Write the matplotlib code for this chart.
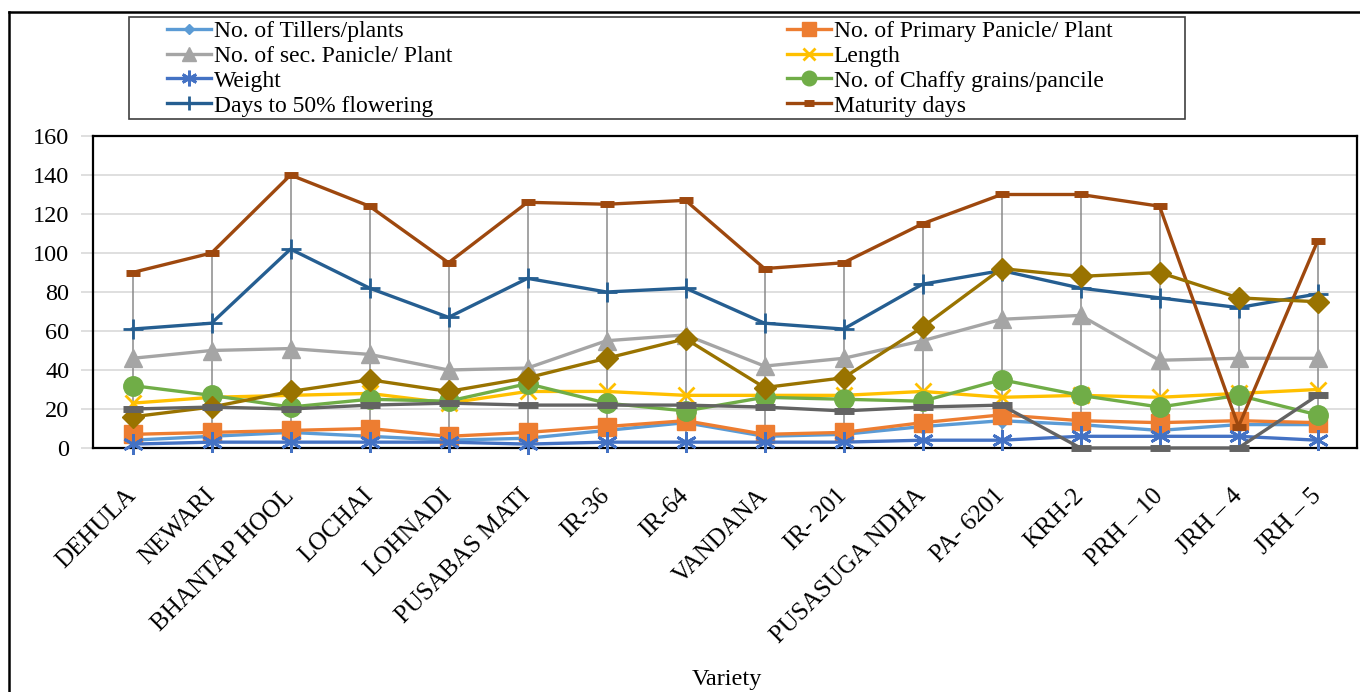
import matplotlib
matplotlib.use('Agg')
import matplotlib.pyplot as plt
from matplotlib.lines import Line2D
from matplotlib.patches import Rectangle
import numpy as np

plt.rcParams['font.family'] = ['Liberation Serif', 'DejaVu Serif']

varieties = ['DEHULA', 'NEWARI', 'BHANTAP HOOL', 'LOCHAI', 'LOHNADI', 'PUSABAS MATI',
             'IR-36', 'IR-64', 'VANDANA', 'IR- 201', 'PUSASUGA NDHA', 'PA- 6201',
             'KRH-2', 'PRH – 10', 'JRH – 4', 'JRH – 5']

tillers   = [4, 6, 8, 6, 4, 5, 9, 13, 6, 7, 11, 14, 12, 9, 12, 12]
primary   = [7, 8, 9, 10, 6, 8, 11, 14, 7, 8, 13, 17, 14, 13, 14, 13]
secondary = [46, 50, 51, 48, 40, 41, 55, 58, 42, 46, 55, 66, 68, 45, 46, 46]
length    = [23, 26, 27, 28, 23, 29, 29, 27, 27, 27, 29, 26, 27, 26, 28, 30]
weight    = [2, 3, 3, 3, 3, 2, 3, 3, 3, 3, 4, 4, 6, 6, 6, 4]
chaffy    = [32, 27, 21, 25, 24, 33, 23, 19, 26, 25, 24, 35, 27, 21, 27, 17]
flowering = [61, 64, 102, 82, 67, 87, 80, 82, 64, 61, 84, 91, 82, 77, 72, 79]
maturity  = [90, 100, 140, 124, 95, 126, 125, 127, 92, 95, 115, 130, 130, 124, 11, 106]
extra_gold = [16, 21, 29, 35, 29, 36, 46, 56, 31, 36, 62, 92, 88, 90, 77, 75]
extra_gray = [20, 21, 20, 22, 23, 22, 22, 22, 21, 19, 21, 22, 0, 0, 0, 27]

W, H = 1360, 692
fig = plt.figure(figsize=(W / 100, H / 100), dpi=100)
ax = fig.add_axes([93 / W, 1 - 448 / H, (1357 - 93) / W, (448 - 136) / H])

x = np.arange(len(varieties))
lw = 2.4

# series: (values, label, color, marker, markersize, extra kwargs)
series = [
    (tillers, 'No. of Tillers/plants', '#5B9BD5', 'D', 7, {}),
    (primary, 'No. of Primary Panicle/ Plant', '#ED7D31', 's', 13, {}),
    (secondary, 'No. of sec. Panicle/ Plant', '#A5A5A5', '^', 13, {}),
    (length, 'Length', '#FFC000', 'x', 12, {'markeredgewidth': 2}),
    (weight, 'Weight', '#4472C4', (6, 2, 0), 15, {'markeredgewidth': 2}),
    (chaffy, 'No. of Chaffy grains/pancile', '#70AD47', 'o', 14, {}),
    (flowering, 'Days to 50% flowering', '#255E91', '+', 14, {'markeredgewidth': 2}),
    (maturity, 'Maturity days', '#9E480E', '_', 10, {'markeredgewidth': 5}),
    (extra_gold, '_nolegend_', '#997300', 'D', 11, {}),
    (extra_gray, '_nolegend_', '#636363', '_', 14, {'markeredgewidth': 5}),
]

handles = {}
for i, (vals, lab, col, mk, ms, kw) in enumerate(series):
    ln, = ax.plot(x, vals, color=col, lw=lw, marker=mk, markersize=ms,
                  markerfacecolor=col, markeredgecolor=col, label=lab,
                  clip_on=False, zorder=3 + i * 0.1, **kw)
    handles[lab] = ln

# high-low lines
allv = np.array([s[0] for s in series])
ax.vlines(x, allv.min(axis=0), allv.max(axis=0), color='#8a8a8a', lw=1.1, zorder=2.9)

ax.set_xlim(-0.5, len(varieties) - 0.5)
ax.set_ylim(0, 160)
ax.set_yticks(range(0, 161, 20))
ax.grid(axis='y', color='#d9d9d9', lw=1.2)
ax.set_axisbelow(True)
for sp in ax.spines.values():
    sp.set_color('black')
    sp.set_linewidth(1.6)

ax.tick_params(axis='y', length=9, color='#d9d9d9', width=1.2, labelsize=17.5, pad=8)
ax.tick_params(axis='x', length=0, labelsize=18, pad=32)
ax.set_xticks(x)
ax.set_xticklabels(varieties, rotation=45, ha='right', va='center', rotation_mode='anchor')
fig.text(727 / W, 1 - 679 / H, 'Variety', fontsize=17.5, ha='center', va='center')

# legend: two frameless columns inside one drawn box
fig.add_artist(Rectangle((129 / W, 1 - 119 / H), (1185 - 129) / W, (119 - 17) / H,
                         transform=fig.transFigure, fill=False, edgecolor='#404040', lw=1.2))
cols = [['No. of Tillers/plants', 'No. of sec. Panicle/ Plant', 'Weight', 'Days to 50% flowering'],
        ['No. of Primary Panicle/ Plant', 'Length', 'No. of Chaffy grains/pancile', 'Maturity days']]
for xl, labs in zip([163, 783], cols):
    fig.legend([handles[k] for k in labs], labs, loc='upper left',
               bbox_to_anchor=(xl / W, 1 - 17 / H), fontsize=17, frameon=False,
               handlelength=1.9, handletextpad=0.1, labelspacing=0.14,
               borderpad=0.15, markerscale=0.75, borderaxespad=0)

# outer frame on left and top
fig.add_artist(Line2D([9 / W, 9 / W], [0, 1 - 12 / H], color='black', lw=1.8,
                      transform=fig.transFigure))
fig.add_artist(Line2D([9 / W, 1], [1 - 12 / H, 1 - 12 / H], color='black', lw=1.8,
                      transform=fig.transFigure))

fig.savefig('out.png', dpi=100)
